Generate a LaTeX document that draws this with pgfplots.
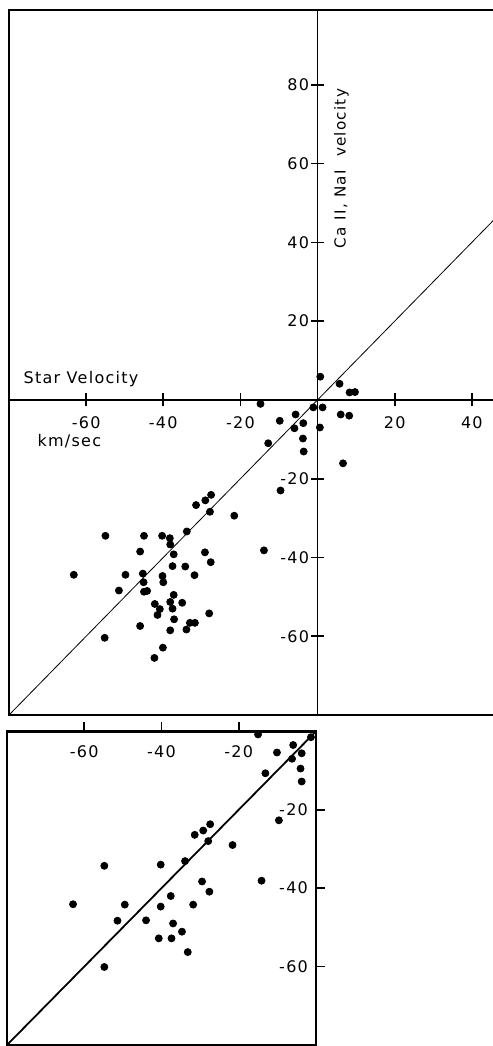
\documentclass[border=0pt]{standalone}
\usepackage{pgfplots}
\pgfplotsset{compat=1.18}
\usepackage{fontspec}
\setmainfont{DejaVu Sans}[LetterSpace=8]

% star velocity vs. interstellar Ca II / Na I velocity (km/sec)
\pgfplotstableread{
x y
0.7 5.9
5.7 4.1
8.3 1.9
9.7 2.0
-14.8 -1.0
-1.1 -1.9
1.3 -1.9
-5.7 -3.7
-9.8 -5.3
-3.7 -5.9
-6.0 -7.2
0.6 -7.0
6.0 -3.7
8.2 -4.0
-12.8 -11.0
-3.8 -9.8
-3.6 -13.1
6.6 -16.1
-9.6 -23.0
-27.6 -24.1
-29.1 -25.5
-31.5 -26.7
-27.9 -28.4
-21.6 -29.4
-33.9 -33.4
-55.0 -34.5
-45.0 -34.5
-40.3 -34.5
-38.3 -35.1
-38.2 -36.7
-13.9 -38.2
-46.0 -38.5
-37.3 -39.2
-29.2 -38.7
-27.7 -41.2
-37.6 -42.2
-34.3 -42.3
-63.2 -44.4
-49.8 -44.4
-45.3 -44.1
-40.2 -44.7
-31.9 -44.5
-45.1 -46.3
-40.0 -46.3
-51.5 -48.4
-45.0 -48.7
-44.2 -48.5
-37.3 -49.5
-42.2 -51.8
-38.2 -51.3
-35.1 -51.5
-40.9 -53.1
-37.6 -53.0
-41.5 -54.6
-28.1 -54.2
-37.2 -55.7
-33.1 -56.6
-31.8 -56.6
-46.0 -57.4
-38.2 -58.5
-34.0 -58.3
-55.2 -60.4
-40.1 -62.9
-42.3 -65.5
}\allstars

\pgfplotstableread{
x y
-15.0 -0.8
-1.3 -1.5
-5.9 -3.5
-10.1 -5.4
-3.7 -5.6
-6.2 -7.0
-4.0 -9.5
-13.1 -10.7
-3.7 -12.8
-9.6 -22.7
-27.4 -23.7
-29.2 -25.3
-31.4 -26.4
-27.9 -28.0
-21.6 -29.0
-33.9 -33.1
-54.8 -34.3
-40.2 -34.0
-14.1 -38.1
-29.5 -38.3
-27.6 -40.9
-37.6 -42.0
-62.9 -44.1
-49.5 -44.2
-40.2 -44.7
-31.8 -44.2
-51.4 -48.3
-44.0 -48.2
-37.0 -49.0
-34.7 -51.1
-40.7 -52.8
-37.4 -52.8
-33.2 -56.3
-54.8 -60.1
}\substars

\begin{document}
\begin{tikzpicture}
\useasboundingbox (0,0) rectangle (246.5pt,-523pt);

% upper panel
\begin{axis}[
    at={(4.5pt,-357.5pt)},
    scale only axis,
    width=243pt, height=352.5pt,
    xmin=-80, xmax=46, ymin=-80, ymax=99,
    axis lines=middle,
    axis line style={-, line width=0.85pt},
    clip=false,
    font=\fontsize{8}{9}\selectfont,
    xtick={-60,-40,-20,20,40},
    xticklabels={-60,-40,-20,20,40},
    ytick={-60,-40,-20,20,40,60,80},
    yticklabels={-60,-40,-20,20,40,60,80},
    tick align=center,
    major tick length=6.5pt,
    tick style={line width=0.85pt, black},
    xticklabel style={yshift=-1.5pt},
    yticklabel style={xshift=2.5pt},
]
\addplot[black, line width=0.4pt] coordinates {(-80,-80) (46,46)};
\addplot[only marks, mark=*, mark size=1.75pt, black] table {\allstars};
\draw[line width=1.2pt] (axis cs:46,99) -- (axis cs:-80,99) -- (axis cs:-80,-80) -- (axis cs:46,-80);
\node[anchor=base west, inner sep=0pt] at (axis cs:-76.3,4.1) {Star Velocity};
\node[anchor=base west, inner sep=0pt] at (axis cs:-72.7,-11.9) {km/sec};
\node[rotate=90, inner sep=0pt, font=\fontsize{7.6}{8}\selectfont] at (axis cs:6.2,58.7) {Ca \textrm{II}, Na\textrm{I}\ \ velocity};
\end{axis}

% lower panel
\begin{axis}[
    at={(3.5pt,-522.5pt)},
    scale only axis,
    width=154.5pt, height=156.85pt,
    xmin=-80, xmax=0, ymin=-80, ymax=0,
    axis line style={line width=1.2pt},
    clip=false,
    font=\fontsize{8}{9}\selectfont,
    xtick={-60,-40,-20},
    xticklabels={-60,-40,-20},
    ytick={-60,-40,-20},
    yticklabels={-60,-40,-20},
    xtick pos=upper, ytick pos=upper,
    xticklabel pos=upper, yticklabel pos=upper,
    tick align=outside,
    major tick length=4.5pt,
    tick style={line width=0.85pt, black},
    xticklabel style={anchor=north, yshift=-8pt},
    yticklabel style={anchor=east, xshift=-5pt},
]
\addplot[black, line width=0.9pt] coordinates {(-80,-80) (0,0)};
\addplot[only marks, mark=*, mark size=1.75pt, black] table {\substars};
\end{axis}
\end{tikzpicture}
\end{document}
